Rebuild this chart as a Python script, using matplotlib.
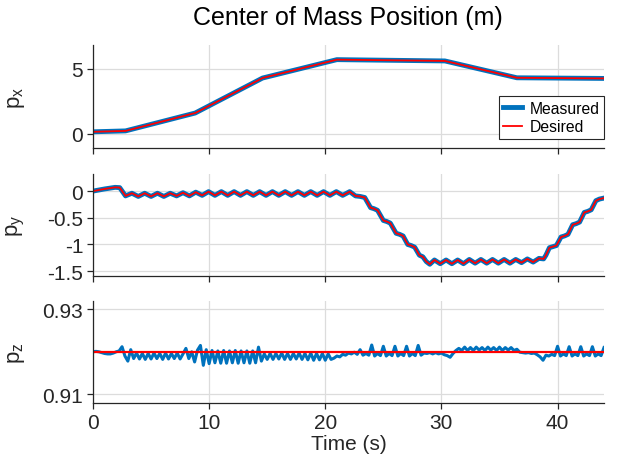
import numpy as np
import matplotlib
matplotlib.use("Agg")
import matplotlib.pyplot as plt

plt.rcParams['font.family'] = ['Liberation Sans', 'DejaVu Sans']
plt.rcParams['axes.unicode_minus'] = False

# ---------------- data ----------------
px_t = [0, 2.8, 8.8, 14.6, 21.0, 30.3, 36.5, 44.0]
px_meas = [0.15, 0.22, 1.6, 4.3, 5.72, 5.62, 4.32, 4.27]
px_des = [0.15, 0.22, 1.6, 4.3, 5.72, 5.62, 4.32, 4.27]

py_t = [0, 1.0, 1.9, 2.3, 2.8,
        3.35, 3.9, 4.45, 5.0, 5.55, 6.1, 6.65, 7.2, 7.75, 8.3, 8.85, 9.4, 9.95,
        10.5, 11.05, 11.6, 12.15, 12.7, 13.25, 13.8, 14.35, 14.9, 15.45, 16.0,
        16.55, 17.1, 17.65, 18.2, 18.75, 19.3, 19.85, 20.4, 20.95, 21.5, 22.1,
        22.6, 23.0, 23.4, 23.9, 24.2, 24.5, 25.0, 25.3, 25.6, 26.1, 26.4, 26.7,
        27.1, 27.4, 27.7, 28.1, 28.4, 28.7, 29.0,
        29.4, 29.9, 30.4, 30.9, 31.4, 31.9, 32.4, 32.9, 33.4, 33.9, 34.4, 34.9,
        35.4, 35.9, 36.4, 36.9, 37.4, 37.9, 38.4, 38.8,
        39.0, 39.3, 39.6, 39.9, 40.3, 40.6, 40.9, 41.3, 41.6, 41.9, 42.3, 42.6,
        42.9, 43.3, 43.6, 44.0]
py_meas = [0.0, 0.04, 0.07, 0.065, -0.09,
           -0.04, -0.10, -0.04, -0.10, -0.04, -0.10, -0.04, -0.09, -0.03, -0.09,
           -0.02, -0.08, -0.01,
           -0.08, -0.01, -0.08, -0.01, -0.08, -0.01, -0.08, -0.01, -0.08, -0.01,
           -0.08, -0.01, -0.08, -0.01, -0.08, -0.01, -0.08, -0.01, -0.08, -0.01,
           -0.08, -0.01,
           -0.09, -0.10, -0.12, -0.31, -0.33, -0.36, -0.55, -0.57, -0.60, -0.79,
           -0.81, -0.84, -1.00, -1.02, -1.05, -1.20, -1.23, -1.32, -1.37,
           -1.29, -1.36, -1.29, -1.36, -1.29, -1.36, -1.28, -1.35, -1.28, -1.35,
           -1.28, -1.35, -1.28, -1.35, -1.28, -1.34, -1.27, -1.33, -1.26, -1.27,
           -1.20, -1.06, -1.04, -1.02, -0.86, -0.84, -0.81, -0.63, -0.61, -0.58,
           -0.40, -0.38, -0.35, -0.18, -0.15, -0.13]
py_des = list(py_meas)

pz_dt = 0.25
pz_meas = [
    # t 0 - 2.25
    0.9200, 0.9201, 0.9200, 0.9198, 0.9196, 0.9195, 0.9195, 0.9197, 0.9200, 0.9202,
    # t 2.5 - 3.25
    0.9212, 0.9190, 0.9178, 0.9205,
    # t 3.5 - 7.75
    0.9184, 0.9197, 0.9183, 0.9196, 0.9182, 0.9196, 0.9183, 0.9197, 0.9184,
    0.9196, 0.9182, 0.9197, 0.9183, 0.9196, 0.9184, 0.9197, 0.9183, 0.9195,
    # t 8.0 - 14.25
    0.9208, 0.9184, 0.9200, 0.9176, 0.9204, 0.9215, 0.9168, 0.9205, 0.9172,
    0.9203, 0.9174, 0.9202, 0.9173, 0.9203, 0.9173, 0.9202, 0.9174, 0.9203,
    0.9173, 0.9202, 0.9174, 0.9202, 0.9173, 0.9202, 0.9174, 0.9211,
    # t 14.5 - 20.5
    0.9178, 0.9195, 0.9182, 0.9196, 0.9182, 0.9196, 0.9183, 0.9197, 0.9182,
    0.9196, 0.9182, 0.9196, 0.9183, 0.9197, 0.9182, 0.9196, 0.9181, 0.9197,
    0.9180, 0.9196, 0.9181, 0.9196, 0.9180, 0.9195, 0.9182,
    # t 20.75 - 22.75
    0.9185, 0.9190, 0.9188, 0.9194, 0.9192, 0.9197, 0.9195, 0.9199, 0.9194,
    # t 23.0 - 28.75
    0.9205, 0.9192, 0.9196, 0.9192, 0.9216, 0.9190, 0.9196, 0.9191, 0.9213,
    0.9190, 0.9196, 0.9191, 0.9213, 0.9190, 0.9196, 0.9191, 0.9213, 0.9190,
    0.9196, 0.9191, 0.9215, 0.9192, 0.9197, 0.9196,
    # t 29.0 - 31.75
    0.9198, 0.9195, 0.9198, 0.9195, 0.9197, 0.9193, 0.9191, 0.9187, 0.9196,
    0.9203, 0.9208, 0.9203,
    # t 32.0 - 36.75
    0.9211, 0.9203, 0.9210, 0.9203, 0.9211, 0.9204, 0.9210, 0.9203, 0.9211,
    0.9204, 0.9210, 0.9203, 0.9211, 0.9203, 0.9210, 0.9204, 0.9210, 0.9203,
    0.9206, 0.9199,
    # t 37.0 - 39.75
    0.9198, 0.9197, 0.9198, 0.9196, 0.9197, 0.9193, 0.9188, 0.9180, 0.9192,
    0.9190, 0.9194, 0.9191,
    # t 40.0 - 44.0
    0.9213, 0.9190, 0.9195, 0.9191, 0.9212, 0.9190, 0.9195, 0.9191, 0.9212,
    0.9190, 0.9195, 0.9191, 0.9212, 0.9190, 0.9195, 0.9191, 0.9210,
]
pz_t = np.arange(len(pz_meas)) * pz_dt
pz_des_t = [0, 44]
pz_des = [0.92, 0.92]

xticks = [0, 10, 20, 30, 40]

# ---------------- style ----------------
BLUE = '#0072BD'
RED = '#FF0000'
DARK = '#262626'
GRID = '#DCDCDC'
TICK_FS = 15

fig = plt.figure(figsize=(6.18, 4.60), dpi=100)
L, W = 93 / 618, (604 - 93) / 618
def box(top, bottom):
    return [L, 1 - bottom / 460, W, (bottom - top) / 460]

ax1 = fig.add_axes(box(46, 149))
ax2 = fig.add_axes(box(175, 277))
ax3 = fig.add_axes(box(302, 404))

for ax in (ax1, ax2, ax3):
    ax.set_xlim(0, 44)
    ax.set_xticks(xticks)
    ax.grid(True, color=GRID, linewidth=0.9)
    ax.set_axisbelow(True)
    for s in ('top', 'right'):
        ax.spines[s].set_visible(False)
    for s in ('left', 'bottom'):
        ax.spines[s].set_color(DARK)
        ax.spines[s].set_linewidth(0.9)
    ax.tick_params(direction='out', length=4, width=0.9, colors=DARK,
                   labelsize=TICK_FS, pad=3)

ax1.plot(px_t, px_meas, color=BLUE, lw=3.5, label='Measured')
ax1.plot(px_t, px_des, color=RED, lw=1.3, label='Desired')
ax1.set_ylim(-1.1, 6.85)
ax1.set_yticks([0, 5])
ax1.tick_params(labelbottom=False)
leg = ax1.legend(loc='lower right', bbox_to_anchor=(1.0, 0.09), borderaxespad=0,
                 fontsize=11.3, handlelength=1.2, handletextpad=0.45,
                 fancybox=False, framealpha=1, labelspacing=0.2,
                 borderpad=0.3)
leg.get_frame().set_edgecolor(DARK)
leg.get_frame().set_linewidth(0.8)

ax2.plot(py_t, py_meas, color=BLUE, lw=3.5)
ax2.plot(py_t, py_des, color=RED, lw=1.3)
ax2.set_ylim(-1.59, 0.32)
ax2.set_yticks([0, -0.5, -1, -1.5])
ax2.set_yticklabels(['0', '-0.5', '-1', '-1.5'])
ax2.tick_params(labelbottom=False)

ax3.plot(pz_t, pz_meas, color=BLUE, lw=2.2)
ax3.plot(pz_des_t, pz_des, color=RED, lw=1.6)
ax3.set_ylim(0.9079, 0.9320)
ax3.set_yticks([0.91, 0.93])
ax3.set_yticklabels(['0.91', '0.93'])
ax3.set_xlabel('Time (s)', fontsize=TICK_FS, color=DARK, labelpad=2)

for ax, name in ((ax1, 'x'), (ax2, 'y'), (ax3, 'z')):
    ax.set_ylabel(r'$\mathregular{p_%s}$' % name, fontsize=16, color=DARK)
    ax.yaxis.set_label_coords(-0.13, 0.5)

fig.text(348 / 618, 1 - 18 / 460, 'Center of Mass Position (m)', ha='center',
         va='center', fontsize=18, color='black')

fig.savefig('out.png', dpi=100)
